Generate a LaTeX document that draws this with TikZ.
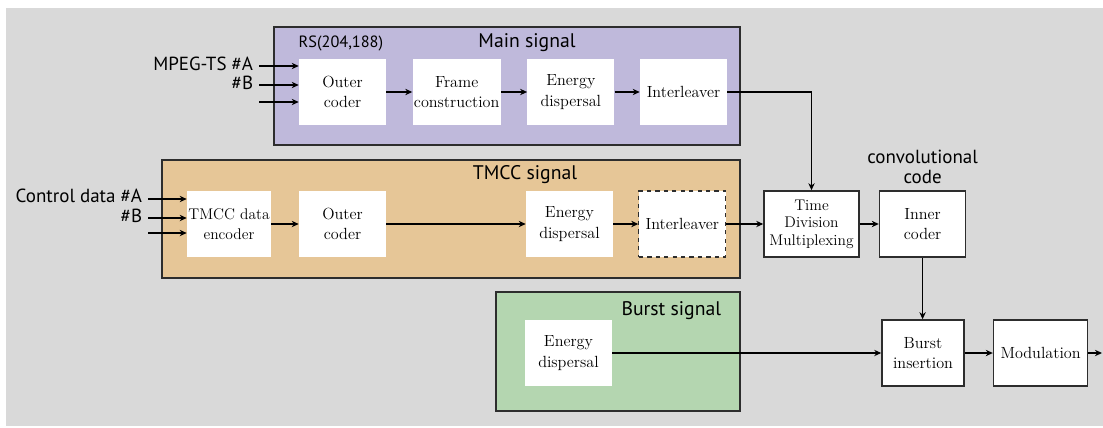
\documentclass[tikz,border=0pt]{standalone}
\usepackage{fontspec}
\usepackage{tikz}
\usetikzlibrary{arrows.meta, positioning}
\newfontfamily\labelfont{PT Sans}
\definecolor{bggray}{RGB}{217,217,217}
\definecolor{mainfill}{RGB}{191,185,219}
\definecolor{tmccfill}{RGB}{230,198,151}
\definecolor{burstfill}{RGB}{180,214,176}
\definecolor{edge}{RGB}{45,45,45}
\tikzstyle{group} = [rectangle, draw=edge, line width=1.2pt, inner sep=0pt]
\tikzstyle{inblock} = [rectangle, fill=white, minimum height=1.65cm, align=center,
    inner sep=1pt, font=\fontsize{11.5}{14.5}\selectfont]
\tikzstyle{block} = [inblock, draw=edge, line width=1.1pt]
\tikzstyle{title} = [font=\labelfont\fontsize{14}{16}\selectfont]
\tikzstyle{lbl} = [font=\labelfont\fontsize{13.5}{14}\selectfont, inner sep=1pt]
\tikzstyle{arrow} = [line width=0.9pt, -{Stealth[length=5pt, width=4.5pt]}]

\begin{document}
\begin{tikzpicture}[x=0.025cm, y=-0.025cm, node distance=0.65cm]
  \useasboundingbox (0,0) rectangle (1103,427);
  \fill[bggray] (6,8) rectangle (1103,426);

  % signal groups
  \node (main)  [group, fill=mainfill,  minimum width=11.65cm, minimum height=2.95cm] at (507,86) {};
  \node (tmcc)  [group, fill=tmccfill,  minimum width=14.45cm, minimum height=2.95cm] at (451,219) {};
  \node (burst) [group, fill=burstfill, minimum width=6.1cm, minimum height=2.975cm] at (618,351.5) {};
  \node (main-t)  [title] at (527,43) {Main signal};
  \node (rs)      [lbl, anchor=west, font=\labelfont\fontsize{11.6}{13}\selectfont] at (297,43) {RS(204,188)};
  \node (tmcc-t)  [title] at (525,175) {TMCC signal};
  \node (burst-t) [title, anchor=east] at (726,311) {Burst signal};

  % main signal
  \node (m-outer)  [inblock, minimum width=2.175cm] at (342.5,92) {Outer\\coder};
  \node (m-frame)  [inblock, minimum width=2.2cm, right=of m-outer] {Frame\\construction};
  \node (m-energy) [inblock, minimum width=2.175cm, right=of m-frame] {Energy\\dispersal};
  \node (m-inter)  [inblock, minimum width=2.175cm, right=0.625cm of m-energy] {Interleaver};

  % TMCC signal
  \node (t-enc)    [inblock, minimum width=2.1cm, inner sep=0.5pt,
                    font=\fontsize{11}{14.5}\selectfont] at (229,224) {TMCC data\\encoder};
  \node (t-outer)  [inblock, minimum width=2.175cm] at (342.5,224) {Outer\\coder};
  \node (t-energy) [inblock, minimum width=2.175cm] at (569.5,224) {Energy\\dispersal};
  \node (t-inter)  [inblock, minimum width=2.175cm, right=0.625cm of t-energy,
                    draw=edge, dashed, line width=0.8pt] {Interleaver};
  \node (tdm)      [block, minimum width=2.375cm, font=\fontsize{11}{12.5}\selectfont]
                    at (811.5,224) {Time\\Division\\Multiplexing};
  \node (inner)    [block, minimum width=2.15cm, right=0.475cm of tdm] {Inner\\coder};
  \node (conv)     [lbl, align=center, above=0.12cm of inner] {convolutional\\code};

  % burst signal
  \node (b-energy) [inblock, minimum width=2.175cm] at (568.5,353) {Energy\\dispersal};
  \node (bins)     [block, minimum width=2.05cm] at (923,353) {Burst\\insertion};
  \node (mod)      [block, minimum width=2.35cm, right=0.7cm of bins] {Modulation};

  % inputs and output
  \coordinate (in-m1) at (259,66);
  \coordinate (in-m2) at (259,85);
  \coordinate (in-m3) at (259,102);
  \coordinate (in-t1) at (148,199);
  \coordinate (in-t2) at (148,218);
  \coordinate (in-t3) at (148,233);
  \coordinate (out)   at (1102,353);
  \node (mpeg-a) [lbl, anchor=east, xshift=-3pt, yshift=1.5pt] at (in-m1) {MPEG-TS \#A};
  \node (mpeg-b) [lbl, anchor=east, xshift=-3pt, yshift=1.5pt] at (in-m2) {\#B};
  \node (ctrl-a) [lbl, anchor=east, xshift=-3pt, yshift=2pt] at (in-t1) {Control data \#A};
  \node (ctrl-b) [lbl, anchor=east, xshift=-3pt, yshift=1.5pt] at (in-t2) {\#B};

  \draw[arrow] (in-m1) -- (in-m1 -| m-outer.west);
  \draw[arrow] (in-m2) -- (in-m2 -| m-outer.west);
  \draw[arrow] (in-m3) -- (in-m3 -| m-outer.west);
  \draw[arrow] (in-t1) -- (in-t1 -| t-enc.west);
  \draw[arrow] (in-t2) -- (in-t2 -| t-enc.west);
  \draw[arrow] (in-t3) -- (in-t3 -| t-enc.west);

  \draw[arrow] (m-outer)  -- (m-frame);
  \draw[arrow] (m-frame)  -- (m-energy);
  \draw[arrow] (m-energy) -- (m-inter);
  \draw[arrow] (m-inter.east) -| (tdm.north);
  \draw[arrow] (t-enc)    -- (t-outer);
  \draw[arrow] (t-outer)  -- (t-energy);
  \draw[arrow] (t-energy) -- (t-inter);
  \draw[arrow] (t-inter)  -- (tdm);
  \draw[arrow] (tdm)      -- (inner);
  \draw[arrow] (inner.south) -- (inner.south |- bins.north);
  \draw[arrow] (b-energy) -- (bins);
  \draw[arrow] (bins)     -- (mod);
  \draw[arrow] (mod)      -- (out);
\end{tikzpicture}
\end{document}
